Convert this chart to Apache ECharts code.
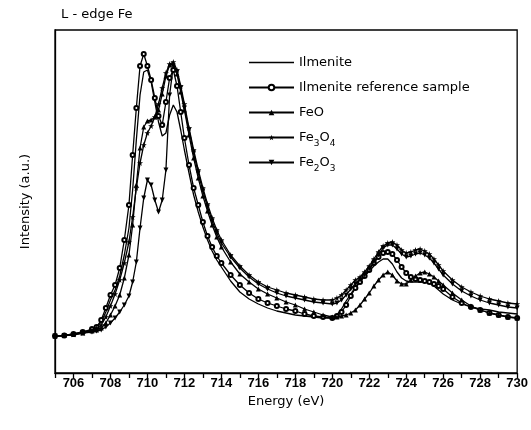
<!DOCTYPE html>
<html><head><meta charset="utf-8">
<script src="https://cdn.jsdelivr.net/npm/echarts@6/dist/echarts.min.js"></script>
<style>html,body{margin:0;padding:0;background:#fff}#c{width:531px;height:430px}</style>
</head><body><div id="c"></div>
<script>
var energy = [705,705.5,706,706.5,707,707.25,707.5,707.75,708,708.25,708.5,708.75,709,709.2,709.4,709.6,709.8,710,710.2,710.4,710.6,710.8,711,711.2,711.4,711.6,711.8,712,712.25,712.5,712.75,713,713.25,713.5,713.75,714,714.5,715,715.5,716,716.5,717,717.5,718,718.5,719,719.5,720,720.25,720.5,720.75,721,721.25,721.5,721.75,722,722.25,722.5,722.75,723,723.25,723.5,723.75,724,724.25,724.5,724.75,725,725.25,725.5,725.75,726,726.5,727,727.5,728,728.5,729,729.5,730];
var ilmenite = [37,37.5,39,41,43,46,51,61,73,83,97,118,145,183,233,278,301,303,291,271,251,237,240,258,268,261,243,223,200,178,161,146,133,122,113,106,92,81,74,69,65,62,60,58,57,56,55,55,58,64,72,79,86,92,97,102,107,111,114,114,109,101,95,92,91,91,91,91,90,87,83,79,73,69,66,64,63,61,60,59];
var ilmeniteRef = [37,37.5,39,41,44,46,53,65,78,88,105,133,168,218,265,307,319,307,293,275,257,248,271,295,303,287,261,235,208,185,168,151,137,126,117,110,98,88,80,74,70,67,64,62,59,57,56,55,57,61,68,77,85,91,97,103,110,116,120,121,119,113,106,100,96,94,93,92,91,89,87,84,76,70,66,63,60,58,56,55];
var feO = [37,37.5,38.5,40,42,43,45,50,58,67,78,95,118,148,188,225,246,252,253,256,263,279,297,308,309,299,281,263,238,215,195,177,162,148,136,126,111,99,91,84,79,75,71,68,64,61,58,56,56,57,58,60,63,68,74,80,87,93,98,101,98,92,89,89,93,97,100,101,99,96,92,88,80,73,67,63,60,58,56,55];
var fe3o4 = [37,37.5,38.5,40,43,45,48,56,67,79,93,110,131,156,185,210,228,240,247,256,269,285,300,309,311,303,287,269,245,223,203,185,169,155,143,133,118,107,98,91,86,83,80,78,76,74,73,73,75,78,83,88,93,96,101,107,114,121,127,130,131,128,123,120,121,123,124,122,119,114,108,102,93,86,81,77,74,72,70,69];
var fe2o3 = [37,37.5,38.5,40,41,42,43,46,50,55,61,68,77,91,111,145,175,193,188,173,161,173,203,278,307,301,285,265,243,220,200,182,166,152,140,130,116,105,96,89,84,80,77,75,73,71,70,69,70,73,78,84,89,93,98,104,111,118,125,128,128,124,119,116,117,119,120,118,115,110,104,98,89,82,77,73,70,68,66,65];
var xTicks = [706,708,710,712,714,716,718,720,722,724,726,728,730];
var seriesNames = ['Ilmenite','Ilmenite reference sample','FeO','Fe3O4','Fe2O3'];

function pairs(ys){ return energy.map(function(e,i){ return [e, ys[i]]; }); }
function ls(){ return {color:'#000', width:1.3, type:'solid'}; }
var star = 'path://M50,0 L61,35 L98,35 L68,57 L79,91 L50,70 L21,91 L32,57 L2,35 L39,35 Z';
var chart = echarts.init(document.getElementById('c'), null, {renderer:'canvas'});
chart.setOption({
  animation:false,
  backgroundColor:'#fff',
  title:{text:'L - edge Fe', left:56, top:3, textStyle:{fontFamily:'DejaVu Sans', fontSize:13, fontWeight:'normal', color:'#000'}},
  grid:{left:55, right:12, top:30, bottom:57, show:true, borderColor:'#000', borderWidth:1.3},
  legend:{
    orient:'vertical', left:243, top:51, itemWidth:45, itemHeight:7, itemGap:8,
    data:[{name:'Ilmenite', icon:'path://M0,0 L100,0 L100,3 L0,3 Z'}, 'Ilmenite reference sample', 'FeO', 'Fe3O4', 'Fe2O3'],
    formatter:function(n){
      if(n==='Fe3O4') return '{n|Fe}{s|3}{n|O}{s|4}';
      if(n==='Fe2O3') return '{n|Fe}{s|2}{n|O}{s|3}';
      return '{n|'+n+'}{s| }';
    },
    textStyle:{color:'#000', fontFamily:'DejaVu Sans', fontSize:13,
      rich:{n:{fontFamily:'DejaVu Sans', fontSize:13, color:'#000'},
            s:{fontFamily:'DejaVu Sans', fontSize:9, padding:[12,0,0,0], color:'#000'}}}
  },
  xAxis:{type:'value', min:705, max:730, interval:1,
    name:'Energy (eV)', nameLocation:'middle', nameGap:19,
    nameTextStyle:{fontFamily:'DejaVu Sans', fontSize:13, color:'#000'},
    axisLine:{show:true, onZero:false, lineStyle:{color:'#000', width:1.3}},
    axisTick:{show:true, length:5, lineStyle:{color:'#000', width:1.3}},
    axisLabel:{color:'#000', fontFamily:'Liberation Sans', fontWeight:'bold', fontSize:13, margin:4,
      formatter:function(v){ return xTicks.indexOf(v)>=0 ? String(v) : ''; }},
    splitLine:{show:false}},
  yAxis:{type:'value', min:0, max:343,
    name:'Intensity (a.u.)', nameLocation:'middle', nameGap:23,
    nameTextStyle:{fontFamily:'DejaVu Sans', fontSize:13, color:'#000'},
    axisLine:{show:true, lineStyle:{color:'#000', width:1.3}},
    axisTick:{show:false}, axisLabel:{show:false}, splitLine:{show:false}},
  series:[
    {name:'Ilmenite', type:'line', data:pairs(ilmenite), symbol:'none', lineStyle:ls(), itemStyle:{color:'#000'}},
    {name:'Ilmenite reference sample', type:'line', data:pairs(ilmeniteRef), symbol:'emptyCircle', symbolSize:4, showAllSymbol:true, lineStyle:ls(), itemStyle:{color:'#000', borderWidth:1}},
    {name:'FeO', type:'line', data:pairs(feO), symbol:'triangle', symbolSize:5, showAllSymbol:true, lineStyle:ls(), itemStyle:{color:'#000'}},
    {name:'Fe3O4', type:'line', data:pairs(fe3o4), symbol:star, symbolSize:6, showAllSymbol:true, lineStyle:ls(), itemStyle:{color:'#000'}},
    {name:'Fe2O3', type:'line', data:pairs(fe2o3), symbol:'triangle', symbolRotate:180, symbolSize:5, showAllSymbol:true, lineStyle:ls(), itemStyle:{color:'#000'}}
  ]
});
</script></body></html>
